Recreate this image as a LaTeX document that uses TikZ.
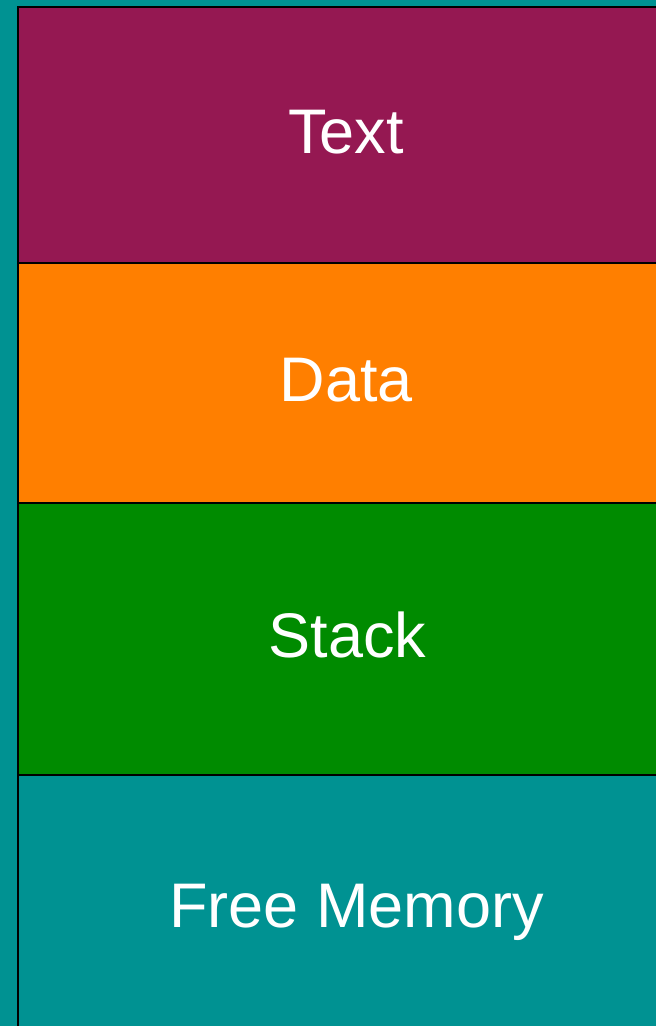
\documentclass[tikz,border=0pt]{standalone}
\usepackage{fontspec}
\setmainfont{Liberation Sans}
\definecolor{tealbg}{HTML}{009292}
\definecolor{textseg}{HTML}{951852}
\definecolor{dataseg}{HTML}{FF7F00}
\definecolor{stackseg}{HTML}{008B00}
\begin{document}
\begin{tikzpicture}[x=1bp,y=-1bp,
  segment/.style={draw=black,line width=2.2bp},
  seglabel/.style={text=white,anchor=base,inner sep=0pt,font=\fontsize{63bp}{70bp}\selectfont}]
  % canvas
  \fill[tealbg] (0,0) rectangle (656,1026);
  \useasboundingbox (0,0) rectangle (656,1026);
  % memory segments, top to bottom
  \path[segment,fill=textseg]  (18,7)   rectangle (700,263);
  \path[segment,fill=dataseg]  (18,263) rectangle (700,503);
  \path[segment,fill=stackseg] (18,503) rectangle (700,775);
  \path[segment,fill=tealbg]   (18,775) rectangle (700,1040);
  % segment labels
  \node[seglabel] (text)  at (346,153) {Text};
  \node[seglabel] (data)  at (346.5,401) {Data};
  \node[seglabel] (stack) at (347.5,657) {Stack};
  \node[seglabel] (free)  at (356.5,927) {Free Memory};
\end{tikzpicture}
\end{document}
